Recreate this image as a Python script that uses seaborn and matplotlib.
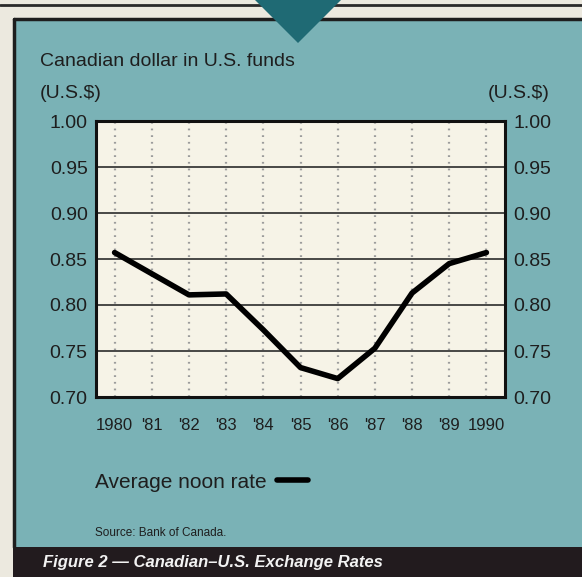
import matplotlib
matplotlib.use('Agg')
import matplotlib.pyplot as plt
import seaborn as sns
from matplotlib.patches import Rectangle, Polygon
from matplotlib.lines import Line2D

# Data
years = [1980, 1981, 1982, 1983, 1984, 1985, 1986, 1987, 1988, 1989, 1990]
rates = [0.857, 0.834, 0.811, 0.812, 0.773, 0.732, 0.720, 0.753, 0.813, 0.845, 0.857]
year_labels = ['1980', "'81", "'82", "'83", "'84", "'85", "'86", "'87", "'88", "'89", '1990']
y_ticks = [0.70, 0.75, 0.80, 0.85, 0.90, 0.95, 1.00]

teal = '#7ab2b6'
cream = '#f6f3e7'
dark = '#221b1e'
paper = '#ece9df'

sns.set_style('white')
plt.rcParams['font.family'] = ['Liberation Sans', 'DejaVu Sans']

W, H = 582, 577
fig = plt.figure(figsize=(W / 100, H / 100), dpi=100, facecolor=teal)


def fx(x):
    return x / W


def fy(y):
    return 1 - y / H


# Page decorations
fig.patches.append(Rectangle((0, fy(18)), 1, 18 / H, transform=fig.transFigure,
                             facecolor=paper, edgecolor='none', zorder=0))
fig.patches.append(Rectangle((0, 0), fx(13), 1, transform=fig.transFigure,
                             facecolor=paper, edgecolor='none', zorder=0))
fig.patches.append(Rectangle((fx(13), 0), 1, 30 / H, transform=fig.transFigure,
                             facecolor=dark, edgecolor='none', zorder=1))
fig.lines.append(Line2D([0, 1], [fy(5), fy(5)], transform=fig.transFigure,
                        color='#2a2a2a', lw=2))
fig.lines.append(Line2D([fx(14), 1], [fy(18.5), fy(18.5)], transform=fig.transFigure,
                        color='#1e1e1e', lw=2.5))
fig.lines.append(Line2D([fx(14), fx(14)], [fy(18.5), fy(547)], transform=fig.transFigure,
                        color='#1e1e1e', lw=2.5))
fig.patches.append(Polygon([(fx(255), fy(0)), (fx(341), fy(0)), (fx(298), fy(43))],
                           closed=True, transform=fig.transFigure,
                           facecolor='#1f6a74', edgecolor='none', zorder=3))

# Plot
ax = fig.add_axes([fx(96), fy(397), (505 - 96) / W, (397 - 121) / H])
ax.set_facecolor(cream)
sns.lineplot(x=years, y=rates, color='black', lw=4, label='Average noon rate',
             ax=ax, zorder=5)

ax.set_xlim(1979.5, 1990.5)
ax.set_ylim(0.70, 1.00)
ax.set_yticks(y_ticks)
ax.set_yticklabels([f'{v:.2f}' for v in y_ticks])
ax.set_xticks(years)
ax.set_xticklabels(year_labels, fontsize=12, color='#1e1e1e')

for v in y_ticks[1:-1]:
    ax.axhline(v, color='#3a3a3a', lw=1.3, zorder=2)
for yr in years:
    ax.axvline(yr, color='#9c9c9c', lw=1.6, ls=(0, (0.8, 2.2)), zorder=1)

for s in ax.spines.values():
    s.set_color('#111111')
    s.set_linewidth(2.2)

ax.tick_params(axis='y', length=0, pad=6, labelsize=14, labelcolor='#1e1e1e',
               labelleft=True, labelright=True)
ax.tick_params(axis='x', length=0, pad=15)
ax.set_xlabel('')
ax.set_ylabel('')

leg = ax.legend(loc='center left', bbox_to_anchor=(fx(95), fy(482)),
                bbox_transform=fig.transFigure, frameon=False, markerfirst=False,
                fontsize=15, handlelength=1.5, handletextpad=0.5,
                borderpad=0, borderaxespad=0)
for t in leg.get_texts():
    t.set_color('#1e1e1e')

# Text
fig.text(fx(40), fy(62), 'Canadian dollar in U.S. funds', fontsize=14,
         color='#1e1e1e', va='center', ha='left')
fig.text(fx(40), fy(94), '(U.S.$)', fontsize=14, color='#1e1e1e', va='center', ha='left')
fig.text(fx(550), fy(94), '(U.S.$)', fontsize=14, color='#1e1e1e', va='center', ha='right')
fig.text(fx(95), fy(533), 'Source: Bank of Canada.', fontsize=8.5,
         color='#1e1e1e', va='center', ha='left')
fig.text(fx(43), fy(563), 'Figure 2 \u2014 Canadian\u2013U.S. Exchange Rates', fontsize=12,
         color='#f2f2f2', fontweight='bold', fontstyle='italic', va='center', ha='left')

fig.savefig('out.png', dpi=100, facecolor=teal)
